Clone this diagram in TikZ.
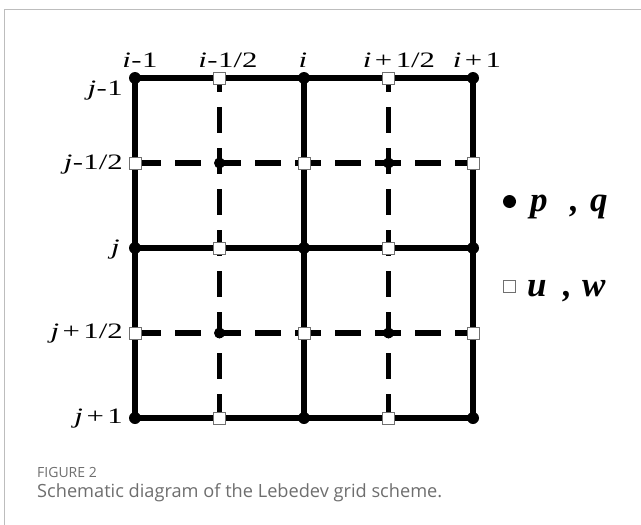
\documentclass[tikz,border=0pt]{standalone}
\usepackage{fontspec}
\usepackage{graphicx}
\setmainfont{Liberation Serif}
\newfontfamily\capfont{Open Sans}
\definecolor{framegray}{HTML}{BDBDBD}
\definecolor{capgray}{HTML}{6E6E6E}
\definecolor{sqgray}{HTML}{707070}
\newcommand\glab[1]{\scalebox{1.4}[1]{\fontsize{22}{22}\selectfont #1}}
\newcommand\gi{\textit{i}}
\newcommand\gj{\textit{j}}
\newcommand\pl{\kern2.5pt+\kern2.5pt}
\newcommand\mi{\kern0.3pt-\kern0.3pt}
\begin{document}
\begin{tikzpicture}[x=1pt,y=-1pt,
  gridline/.style={line width=5.5pt, black},
  hdashline/.style={line width=5.5pt, dash pattern=on 26pt off 14pt},
  vdashline/.style={line width=5.5pt, dash pattern=on 26pt off 15pt, dash phase=12pt},
  pdot/.style={circle, fill=black, inner sep=0pt, minimum size=12pt},
  pdotsmall/.style={circle, fill=black, inner sep=0pt, minimum size=11pt},
  usq/.style={rectangle, fill=white, draw=sqgray, line width=0.8pt, inner sep=0pt, minimum size=12pt},
  toplab/.style={anchor=base, inner sep=0pt},
  leftlab/.style={anchor=base east, inner sep=0pt},
  legtext/.style={anchor=base west, inner sep=0pt, font=\fontsize{35}{35}\selectfont\bfseries\itshape},
  captitle/.style={anchor=base west, inner sep=0pt, text=capgray, font=\capfont\fontsize{14}{14}\selectfont},
  captext/.style={anchor=base west, inner sep=0pt, text=capgray, font=\capfont\fontsize{18.2}{18.2}\selectfont}
]
\useasboundingbox (0,0) rectangle (641,525);
\draw[framegray, line width=1pt] (4,530) -- (4,9.5) -- (650,9.5);

\foreach \c/\x in {0/135,1/219.5,2/304,3/388.5,4/473}
  \foreach \r/\y in {0/78,1/163,2/248,3/333,4/418}
    \coordinate (g\c\r) at (\x,\y);

% dashed lines
\draw[hdashline] (g01) -- (g41);
\draw[hdashline] (g03) -- (g43);
\draw[vdashline] (g10) -- (g14);
\draw[vdashline] (g30) -- (g34);
% solid lines
\draw[gridline] (g00) rectangle (g44);
\draw[gridline] (g02) -- (g42);
\draw[gridline] (g20) -- (g24);

% p,q points
\foreach \c in {0,2,4} \foreach \r in {0,2,4} \node[pdot] (d\c\r) at (g\c\r) {};
\foreach \c in {1,3} \foreach \r in {1,3} \node[pdotsmall] (d\c\r) at (g\c\r) {};
% u,w points
\foreach \c in {1,3} \foreach \r in {0,2,4} \node[usq] (s\c\r) at (g\c\r) {};
\foreach \c in {0,2,4} \foreach \r in {1,3} \node[usq] (s\c\r) at (g\c\r) {};

% top labels
\node[toplab] (ti0) at (140,67) {\glab{\gi\mi1}};
\node[toplab] (ti1) at (228,67) {\glab{\gi\mi1/2}};
\node[toplab] (ti2) at (303,67) {\glab{\gi}};
\node[toplab] (ti3) at (399,67) {\glab{\gi\pl1/2}};
\node[toplab] (ti4) at (477,67) {\glab{\gi\pl1}};
% left labels
\node[leftlab] (lj0) at (123,95) {\glab{\gj\mi1}};
\node[leftlab] (lj1) at (123,169) {\glab{\gj\mi1/2}};
\node[leftlab] (lj2) at (120,254) {\glab{\gj}};
\node[leftlab] (lj3) at (123,338) {\glab{\gj\pl1/2}};
\node[leftlab] (lj4) at (123,423) {\glab{\gj\pl1}};

% legend
\node[circle, fill=black, minimum size=13pt, inner sep=0pt] (bul) at (509.5,201.5) {};
\node[legtext] (lp) at (530,211) {p};
\node[legtext] (lc1) at (570,211) {,};
\node[legtext] (lq) at (590,211) {q};
\node[usq] (lsq) at (509,286) {};
\node[legtext] (lu) at (527,296) {u};
\node[legtext] (lc2) at (563,296) {,};
\node[legtext] (lw) at (582,296) {w};

% caption
\node[captitle] (cap1) at (37,477) {FIGURE 2};
\node[captext] (cap2) at (37,497) {Schematic diagram of the Lebedev grid scheme.};
\end{tikzpicture}
\end{document}
